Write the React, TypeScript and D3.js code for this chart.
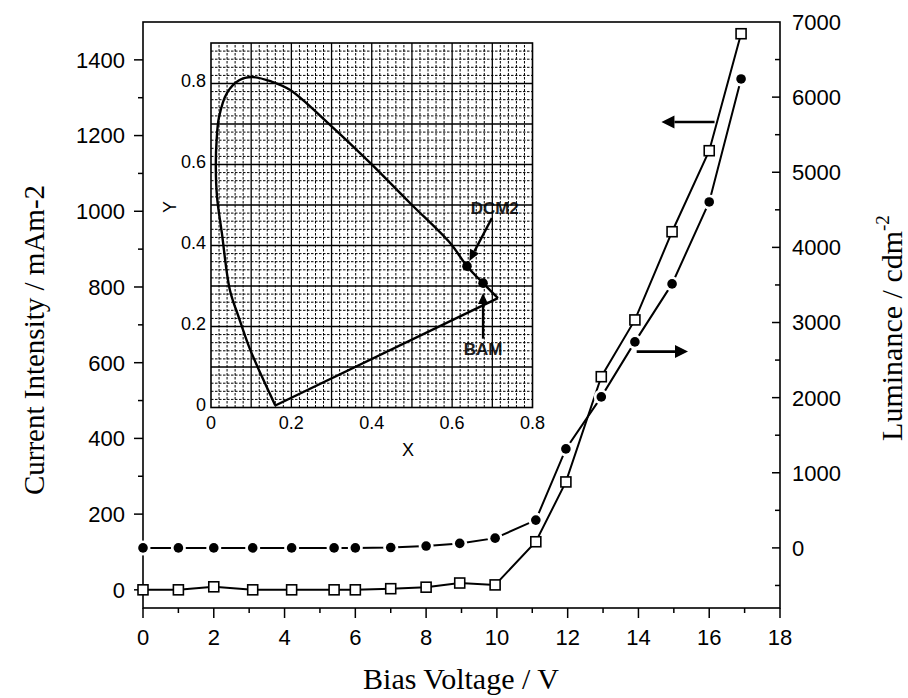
import React, { useEffect, useRef } from 'react';
import * as d3 from 'd3';

// main chart data
const voltage = [0, 1, 2, 3.1, 4.2, 5.4, 6, 7, 8, 8.95, 9.95, 11.1, 11.95, 12.95, 13.9, 14.95, 16, 16.9];
const currentIntensity = [0, 0, 8, 0, 0, 0, 0, 3, 7, 18, 13, 127, 285, 563, 713, 946, 1160, 1469];
const luminance = [0, 0, 0, 0, 0, 0, 0, 5, 25, 60, 130, 370, 1318, 2010, 2742, 3514, 4605, 6242];

const xTicks = [0, 2, 4, 6, 8, 10, 12, 14, 16, 18];
const leftTicks = [0, 200, 400, 600, 800, 1000, 1200, 1400];
const rightTicks = [0, 1000, 2000, 3000, 4000, 5000, 6000, 7000];

// inset: CIE chromaticity diagram
const locusX = [0.16, 0.125, 0.095, 0.07, 0.047, 0.027, 0.015, 0.012, 0.014, 0.02, 0.04, 0.07, 0.102, 0.15, 0.197, 0.296, 0.396, 0.495, 0.595, 0.637, 0.677, 0.714];
const locusY = [0.005, 0.08, 0.149, 0.22, 0.29, 0.431, 0.52, 0.594, 0.66, 0.717, 0.777, 0.808, 0.816, 0.805, 0.784, 0.698, 0.604, 0.505, 0.406, 0.349, 0.307, 0.27];
const emitterNames = ['DCM2', 'BAM'];
const emitterX = [0.637, 0.677];
const emitterY = [0.349, 0.307];
const insetTicks = [0, 0.2, 0.4, 0.6, 0.8];

const SANS = "'Liberation Sans', Arial, sans-serif";
const SERIF = "'Liberation Serif', 'Times New Roman', serif";

const App = () => {
    const svgRef = useRef<SVGSVGElement>(null);

    useEffect(() => {
        const svg = d3.select(svgRef.current);
        svg.selectAll('*').remove();

        const x = d3.scaleLinear().domain([0, 18]).range([143, 780]);
        const yL = d3.scaleLinear().domain([-48, 1500]).range([608, 22]);
        const yR = d3.scaleLinear().domain([-800, 7000]).range([608, 22]);

        const g = svg.append('g');

        // frame
        g.append('rect')
            .attr('x', x(0)).attr('y', yL(1500))
            .attr('width', x(18) - x(0)).attr('height', yL(-48) - yL(1500))
            .attr('fill', 'none').attr('stroke', '#000').attr('stroke-width', 1.6);

        // bottom ticks (outward)
        d3.range(0, 19).forEach((v) => {
            const major = v % 2 === 0;
            g.append('line')
                .attr('x1', x(v)).attr('x2', x(v))
                .attr('y1', 608).attr('y2', 608 + (major ? 10 : 5))
                .attr('stroke', '#000').attr('stroke-width', 1.5);
        });
        g.selectAll('.xlab').data(xTicks).enter().append('text')
            .attr('x', (d) => x(d)).attr('y', 645)
            .attr('text-anchor', 'middle')
            .attr('font-family', SANS).attr('font-size', 22)
            .text((d) => d);

        // left ticks (outward)
        d3.range(0, 1500, 100).forEach((v) => {
            const major = v % 200 === 0;
            g.append('line')
                .attr('x1', x(0)).attr('x2', x(0) - (major ? 9 : 5))
                .attr('y1', yL(v)).attr('y2', yL(v))
                .attr('stroke', '#000').attr('stroke-width', 1.5);
        });
        g.selectAll('.ylab').data(leftTicks).enter().append('text')
            .attr('x', 125).attr('y', (d) => yL(d)).attr('dy', '0.36em')
            .attr('text-anchor', 'end')
            .attr('font-family', SANS).attr('font-size', 22)
            .text((d) => d);

        // right ticks (inward)
        d3.range(-500, 7000, 500).forEach((v) => {
            const major = v % 1000 === 0;
            g.append('line')
                .attr('x1', x(18)).attr('x2', x(18) - (major ? 8 : 5))
                .attr('y1', yR(v)).attr('y2', yR(v))
                .attr('stroke', '#000').attr('stroke-width', 1.5);
        });
        g.selectAll('.rlab').data(rightTicks).enter().append('text')
            .attr('x', 792).attr('y', (d) => yR(d)).attr('dy', '0.36em')
            .attr('font-family', SANS).attr('font-size', 22)
            .text((d) => d);

        // axis titles
        g.append('text')
            .attr('x', 461).attr('y', 689)
            .attr('text-anchor', 'middle')
            .attr('font-family', SERIF).attr('font-size', 30)
            .text('Bias Voltage / V');
        g.append('text')
            .attr('transform', 'translate(44,340) rotate(-90)')
            .attr('text-anchor', 'middle')
            .attr('font-family', SERIF).attr('font-size', 29)
            .text('Current Intensity / mAm-2');
        const lumTitle = g.append('text')
            .attr('transform', 'translate(902,328) rotate(-90)')
            .attr('text-anchor', 'middle')
            .attr('font-family', SERIF).attr('font-size', 30);
        lumTitle.append('tspan').text('Luminance / cdm');
        lumTitle.append('tspan').attr('dy', -13).attr('font-size', 19).text('-2');

        // data lines
        const pts = voltage.map((v, i) => ({ v, c: currentIntensity[i], l: luminance[i] }));
        const curLine = d3.line<any>().x((d) => x(d.v)).y((d) => yL(d.c));
        const lumLine = d3.line<any>().x((d) => x(d.v)).y((d) => yR(d.l));

        g.append('path').attr('d', curLine(pts))
            .attr('fill', 'none').attr('stroke', '#000').attr('stroke-width', 2);
        g.append('path').attr('d', lumLine(pts))
            .attr('fill', 'none').attr('stroke', '#000').attr('stroke-width', 2);

        // luminance markers with white gaps around them
        g.selectAll('.halo').data(pts).enter().append('circle')
            .attr('cx', (d) => x(d.v)).attr('cy', (d) => yR(d.l))
            .attr('r', 7.5).attr('fill', '#fff');
        g.selectAll('.dot').data(pts).enter().append('circle')
            .attr('cx', (d) => x(d.v)).attr('cy', (d) => yR(d.l))
            .attr('r', 4.8).attr('fill', '#000');

        // current markers (open squares)
        g.selectAll('.sq').data(pts).enter().append('rect')
            .attr('x', (d) => x(d.v) - 5).attr('y', (d) => yL(d.c) - 5)
            .attr('width', 10).attr('height', 10)
            .attr('fill', '#fff').attr('stroke', '#000').attr('stroke-width', 1.6);

        // arrows pointing to the axis of each curve
        const arrow = (x1: number, y1: number, x2: number, y2: number, len: number, half: number, sw: number) => {
            const a = Math.atan2(y2 - y1, x2 - x1);
            const bx = x2 - len * Math.cos(a), by = y2 - len * Math.sin(a);
            g.append('line').attr('x1', x1).attr('y1', y1).attr('x2', bx).attr('y2', by)
                .attr('stroke', '#000').attr('stroke-width', sw);
            const px = -Math.sin(a) * half, py = Math.cos(a) * half;
            g.append('polygon')
                .attr('points', `${x2},${y2} ${bx + px},${by + py} ${bx - px},${by - py}`)
                .attr('fill', '#000');
        };
        arrow(x(16.15), yL(1236), x(14.65), yL(1236), 13, 6.5, 2.6);
        arrow(x(13.95), yR(2613), x(15.4), yR(2613), 13, 6.5, 2.6);

        // ---------- inset ----------
        const ix = d3.scaleLinear().domain([0, 0.8]).range([211, 532.5]);
        const iy = d3.scaleLinear().domain([0, 0.9]).range([407.5, 43]);
        const ig = svg.append('g');

        ig.append('rect')
            .attr('x', ix(0)).attr('y', iy(0.9))
            .attr('width', ix(0.8) - ix(0)).attr('height', iy(0) - iy(0.9))
            .attr('fill', '#fff');

        // labels for the two emitters (grid is drawn on top like in the scan)
        emitterNames.forEach((name, i) => {
            const tx = i === 0 ? 0.706 : 0.677;
            const ty = i === 0 ? 0.478 : 0.13;
            ig.append('text')
                .attr('x', ix(tx)).attr('y', iy(ty))
                .attr('text-anchor', 'middle')
                .attr('font-family', SANS).attr('font-size', 17).attr('font-weight', 'bold')
                .attr('fill', '#222')
                .text(name);
        });

        // fine dotted grid
        d3.range(0.02, 0.8, 0.02).forEach((v) => {
            if (Math.abs(v * 10 - Math.round(v * 10)) < 1e-6) return;
            ig.append('line')
                .attr('x1', ix(v)).attr('x2', ix(v)).attr('y1', iy(0)).attr('y2', iy(0.9))
                .attr('stroke', '#000').attr('stroke-width', 1).attr('stroke-dasharray', '2.5,1.5');
        });
        d3.range(0.02, 0.9, 0.02).forEach((v) => {
            if (Math.abs(v * 10 - Math.round(v * 10)) < 1e-6) return;
            ig.append('line')
                .attr('y1', iy(v)).attr('y2', iy(v)).attr('x1', ix(0)).attr('x2', ix(0.8))
                .attr('stroke', '#000').attr('stroke-width', 1).attr('stroke-dasharray', '2.5,1.5');
        });
        // major grid
        d3.range(0.1, 0.8, 0.1).forEach((v) => {
            ig.append('line')
                .attr('x1', ix(v)).attr('x2', ix(v)).attr('y1', iy(0)).attr('y2', iy(0.9))
                .attr('stroke', '#000').attr('stroke-width', 1.3);
        });
        d3.range(0.1, 0.85, 0.1).forEach((v) => {
            ig.append('line')
                .attr('y1', iy(v)).attr('y2', iy(v)).attr('x1', ix(0)).attr('x2', ix(0.8))
                .attr('stroke', '#000').attr('stroke-width', 1.3);
        });
        ig.append('rect')
            .attr('x', ix(0)).attr('y', iy(0.9))
            .attr('width', ix(0.8) - ix(0)).attr('height', iy(0) - iy(0.9))
            .attr('fill', 'none').attr('stroke', '#000').attr('stroke-width', 1.6);

        // spectral locus + line of purples
        const locus = locusX.map((v, i) => [ix(v), iy(locusY[i])] as [number, number]);
        ig.append('path')
            .attr('d', d3.line().curve(d3.curveCatmullRom.alpha(0.5))(locus))
            .attr('fill', 'none').attr('stroke', '#000').attr('stroke-width', 2.4);
        ig.append('line')
            .attr('x1', locus[locus.length - 1][0]).attr('y1', locus[locus.length - 1][1])
            .attr('x2', locus[0][0]).attr('y2', locus[0][1])
            .attr('stroke', '#000').attr('stroke-width', 2.4);

        // emitter points
        emitterX.forEach((v, i) => {
            ig.append('circle').attr('cx', ix(v)).attr('cy', iy(emitterY[i]))
                .attr('r', 4.8).attr('fill', '#000');
        });

        // arrows to the emitter points
        const iarrow = (x1: number, y1: number, x2: number, y2: number) => {
            const a = Math.atan2(y2 - y1, x2 - x1);
            const len = 11, half = 5;
            const bx = x2 - len * Math.cos(a), by = y2 - len * Math.sin(a);
            ig.append('line').attr('x1', x1).attr('y1', y1).attr('x2', bx).attr('y2', by)
                .attr('stroke', '#000').attr('stroke-width', 2.4);
            const px = -Math.sin(a) * half, py = Math.cos(a) * half;
            ig.append('polygon')
                .attr('points', `${x2},${y2} ${bx + px},${by + py} ${bx - px},${by - py}`)
                .attr('fill', '#000');
        };
        iarrow(ix(0.699), iy(0.468), ix(0.643), iy(0.362));
        iarrow(ix(0.677), iy(0.17), ix(0.677), iy(0.283));

        // inset tick labels
        ig.selectAll('.ixl').data(insetTicks).enter().append('text')
            .attr('x', (d) => ix(d)).attr('y', 429)
            .attr('text-anchor', 'middle')
            .attr('font-family', SANS).attr('font-size', 18)
            .text((d) => (d === 0 ? '0' : d.toFixed(1)));
        ig.selectAll('.iyl').data(insetTicks).enter().append('text')
            .attr('x', 206).attr('y', (d) => iy(d) - 3).attr('dy', '0.36em')
            .attr('text-anchor', 'end')
            .attr('font-family', SANS).attr('font-size', 18)
            .text((d) => (d === 0 ? '0' : d.toFixed(1)));
        ig.append('text')
            .attr('x', 408).attr('y', 456)
            .attr('text-anchor', 'middle')
            .attr('font-family', SANS).attr('font-size', 18)
            .text('X');
        ig.append('text')
            .attr('transform', 'translate(176,207) rotate(-90)')
            .attr('text-anchor', 'middle')
            .attr('font-family', SANS).attr('font-size', 18)
            .text('Y');
    }, []);

    return (
        <svg ref={svgRef} width={908} height={698}
            style={{ position: 'absolute', left: 0, top: 0, background: '#fff' }}></svg>
    );
};

export default App;
